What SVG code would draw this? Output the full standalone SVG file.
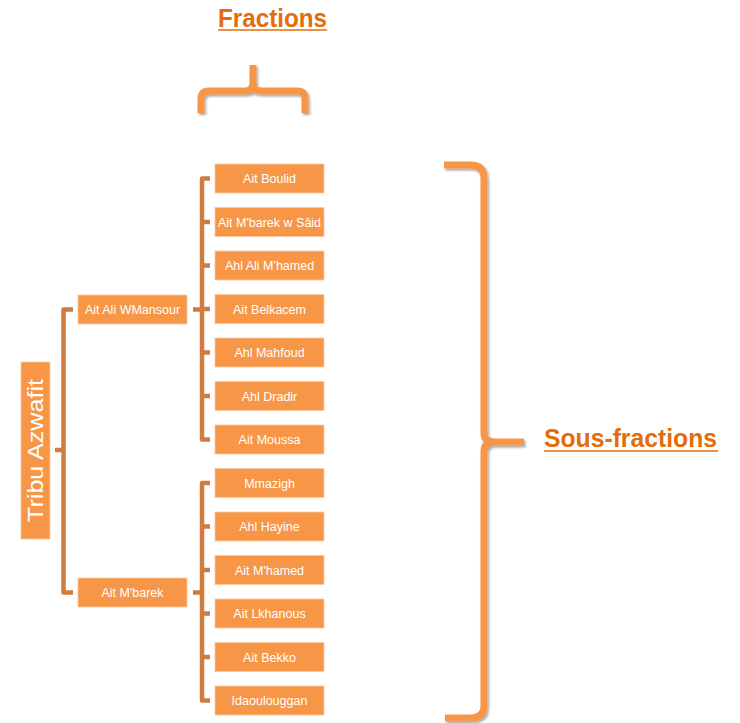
<svg xmlns="http://www.w3.org/2000/svg" width="740" height="723" viewBox="0 0 740 723">
<style>
.box{fill:#F79646;stroke:#FBC9A0;stroke-width:0.8}
.lbl{font-family:"Liberation Sans",Arial,sans-serif;font-size:12.5px;fill:#fff;text-anchor:middle}
.conn{fill:none;stroke:#D07C3E;stroke-width:4.5;stroke-linejoin:round}
.brace{fill:none;stroke:#F79646;stroke-width:7;stroke-linecap:butt;stroke-linejoin:round}
.title{font-family:"Liberation Sans",Arial,sans-serif;font-weight:bold;font-size:26px;fill:#E46C0A}
.ul{stroke:#E46C0A;stroke-width:1.5}
</style>
<defs>
<filter id="sh" x="-20%" y="-20%" width="140%" height="140%">
<feDropShadow dx="1.5" dy="2" stdDeviation="1.2" flood-color="#000" flood-opacity="0.35"/>
</filter>
</defs>
<g id="titles">
<text class="title" x="218" y="27" textLength="109" lengthAdjust="spacingAndGlyphs">Fractions</text>
<line class="ul" x1="218" y1="30" x2="327" y2="30"/>
<text class="title" x="544" y="447" textLength="173" lengthAdjust="spacingAndGlyphs">Sous-fractions</text>
<line class="ul" x1="544" y1="451" x2="718" y2="451"/>
</g>
<g id="braces" filter="url(#sh)">
<path class="brace" d="M201,113 L201,99 Q201,91 209,91 L245,91 Q253,91 253,83 L253,65 M253,83 Q253,91 261,91 L297,91 Q305,91 305,99 L305,113"/>
<path class="brace" d="M444,165 L470,165 Q484,165 484,178 L484,432 Q484,442 494,442 L524,442 M494,442 Q484,442 484,452 L484,706 Q484,718 470,718 L445,718"/>
</g>
<g id="connectors">
<path class="conn" d="M55,450 L63.5,450 M73,309.5 L63.5,309.5 L63.5,592.5 L73,592.5"/>
<path class="conn" d="M193,309.5 L202,309.5 M210,178.5 L202,178.5 L202,439.5 L210,439.5 M202,222 L210,222 M202,265.5 L210,265.5 M202,309 L210,309 M202,352.5 L210,352.5 M202,396 L210,396"/>
<path class="conn" d="M193,592.5 L202,592.5 M210,483 L202,483 L202,700.5 L210,700.5 M202,526.5 L210,526.5 M202,570 L210,570 M202,613.5 L210,613.5 M202,657 L210,657"/>
</g>
<g id="tribu">
<rect class="box" x="21" y="362" width="29" height="177"/>
<text class="lbl" transform="translate(43,450.5) rotate(-90)" x="0" y="0" style="font-size:22px" textLength="143" lengthAdjust="spacingAndGlyphs">Tribu Azwafit</text>
</g>
<g id="ait-ali-wmansour"><rect class="box" x="78" y="295" width="109" height="29"/><text class="lbl" x="132.5" y="314">Ait Ali WMansour</text></g>
<g id="ait-mbarek"><rect class="box" x="78" y="578" width="109" height="29"/><text class="lbl" x="132.5" y="597">Ait M'barek</text></g>
<g id="ait-boulid"><rect class="box" x="215" y="164" width="109" height="29"/><text class="lbl" x="269.5" y="183">Ait Boulid</text></g>
<g id="ait-mbarek-w-said"><rect class="box" x="215" y="207.5" width="109" height="29"/><text class="lbl" x="269.5" y="226.5">Ait M'barek w Sâid</text></g>
<g id="ahl-ali-mhamed"><rect class="box" x="215" y="251" width="109" height="29"/><text class="lbl" x="269.5" y="270">Ahl Ali M'hamed</text></g>
<g id="ait-belkacem"><rect class="box" x="215" y="294.5" width="109" height="29"/><text class="lbl" x="269.5" y="313.5">Ait Belkacem</text></g>
<g id="ahl-mahfoud"><rect class="box" x="215" y="338" width="109" height="29"/><text class="lbl" x="269.5" y="357">Ahl Mahfoud</text></g>
<g id="ahl-dradir"><rect class="box" x="215" y="381.5" width="109" height="29"/><text class="lbl" x="269.5" y="400.5">Ahl Dradir</text></g>
<g id="ait-moussa"><rect class="box" x="215" y="425" width="109" height="29"/><text class="lbl" x="269.5" y="444">Ait Moussa</text></g>
<g id="mmazigh"><rect class="box" x="215" y="468.5" width="109" height="29"/><text class="lbl" x="269.5" y="487.5">Mmazigh</text></g>
<g id="ahl-hayine"><rect class="box" x="215" y="512" width="109" height="29"/><text class="lbl" x="269.5" y="531">Ahl Hayine</text></g>
<g id="ait-mhamed"><rect class="box" x="215" y="555.5" width="109" height="29"/><text class="lbl" x="269.5" y="574.5">Ait M'hamed</text></g>
<g id="ait-lkhanous"><rect class="box" x="215" y="599" width="109" height="29"/><text class="lbl" x="269.5" y="618">Ait Lkhanous</text></g>
<g id="ait-bekko"><rect class="box" x="215" y="642.5" width="109" height="29"/><text class="lbl" x="269.5" y="661.5">Ait Bekko</text></g>
<g id="idaoulouggan"><rect class="box" x="215" y="686" width="109" height="29"/><text class="lbl" x="269.5" y="705">Idaoulouggan</text></g>
</svg>
